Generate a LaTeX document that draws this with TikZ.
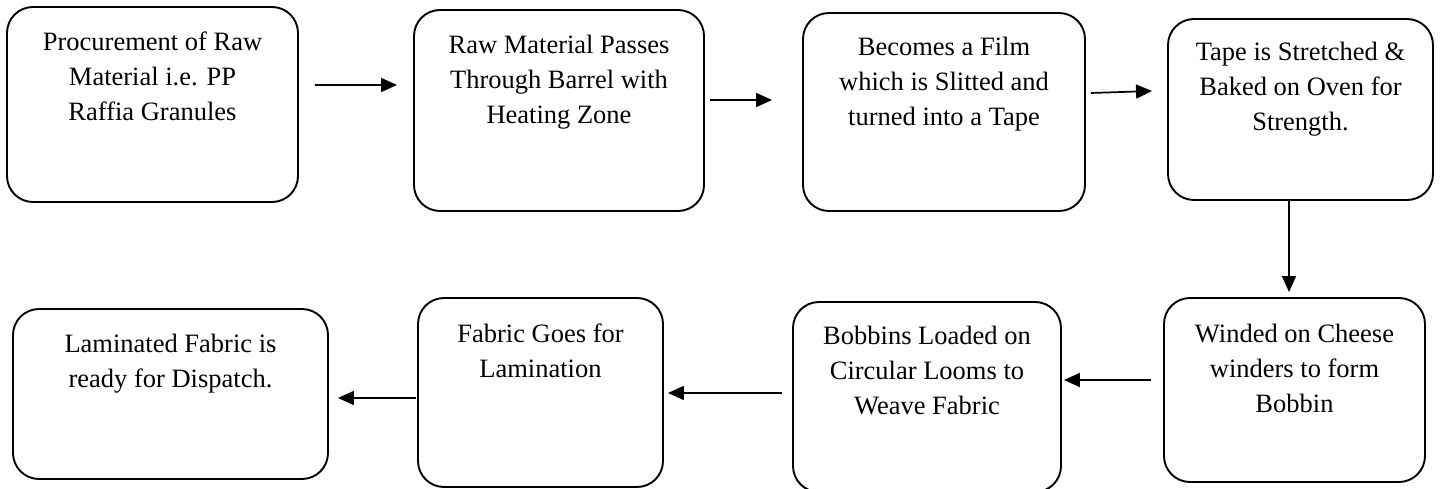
\documentclass[tikz,border=0pt]{standalone}
\usepackage{fontspec}
\setmainfont{Liberation Serif}
\usetikzlibrary{arrows.meta}
\begin{document}
\begin{tikzpicture}[x=1pt,y=-1pt,
  stepbox/.style={draw=black, line width=1.9pt, rounded corners=26pt, inner sep=0pt},
  txt/.style={align=center, inner sep=0pt, anchor=north,
    font=\fontsize{26.5}{35}\selectfont},
  arr/.style={line width=1.7pt, -{Triangle[length=16pt,width=14pt]}}]
\clip (0,0) rectangle (1440,489);
% boxes
\node[stepbox, minimum width=291pt, minimum height=195pt] (b1) at (152.5,104.5) {};
\node[stepbox, minimum width=290pt, minimum height=201pt] (b2) at (559,110.5) {};
\node[stepbox, minimum width=282pt, minimum height=198pt] (b3) at (944,112) {};
\node[stepbox, minimum width=265pt, minimum height=181pt] (b4) at (1300.5,109.5) {};
\node[stepbox, minimum width=261pt, minimum height=184pt] (b5) at (1294.5,390) {};
\node[stepbox, minimum width=268pt, minimum height=190pt] (b6) at (927,397) {};
\node[stepbox, minimum width=245pt, minimum height=189pt] (b7) at (540.5,392.5) {};
\node[stepbox, minimum width=315pt, minimum height=170pt] (b8) at (170.5,394) {};
% texts
\node[txt] (t1) at (152.5,25.5) {\strut Procurement of Raw\\Material i.e. PP\\Raffia Granules};
\node[txt] (t2) at (559,28.5) {\strut Raw Material Passes\\Through Barrel with\\Heating Zone};
\node[txt] (t3) at (944,30.5) {\strut Becomes a Film\\which is Slitted and\\turned into a Tape};
\node[txt] (t4) at (1300.5,35.5) {\strut Tape is Stretched \&\\Baked on Oven for\\Strength.};
\node[txt] (t5) at (1294.5,317.5) {\strut Winded on Cheese\\winders to form\\Bobbin};
\node[txt] (t6) at (927,319.5) {\strut Bobbins Loaded on\\Circular Looms to\\Weave Fabric};
\node[txt] (t7) at (540.5,317.5) {\strut Fabric Goes for\\Lamination};
\node[txt] (t8) at (170.5,327.5) {\strut Laminated Fabric is\\ready for Dispatch.};
% arrows
\draw[arr] ([shift={(16,-19.5)}]b1.east) -- ([shift={(-16,-25.5)}]b2.west);
\draw[arr] ([shift={(5,-10.5)}]b2.east) -- ([shift={(-30,-12)}]b3.west);
\draw[arr] ([shift={(5,-19)}]b3.east) -- ([shift={(-15,-18.5)}]b4.west);
\draw[arr] ([shift={(-11.5,0)}]b4.south) -- ([shift={(-5.5,-5)}]b5.north);
\draw[arr] ([shift={(-12,-10)}]b5.west) -- ([shift={(2,-17)}]b6.east);
\draw[arr] ([shift={(-10,-4)}]b6.west) -- ([shift={(4,0.5)}]b7.east);
\draw[arr] ([shift={(-1,5.5)}]b7.west) -- ([shift={(9,4)}]b8.east);
\end{tikzpicture}
\end{document}
